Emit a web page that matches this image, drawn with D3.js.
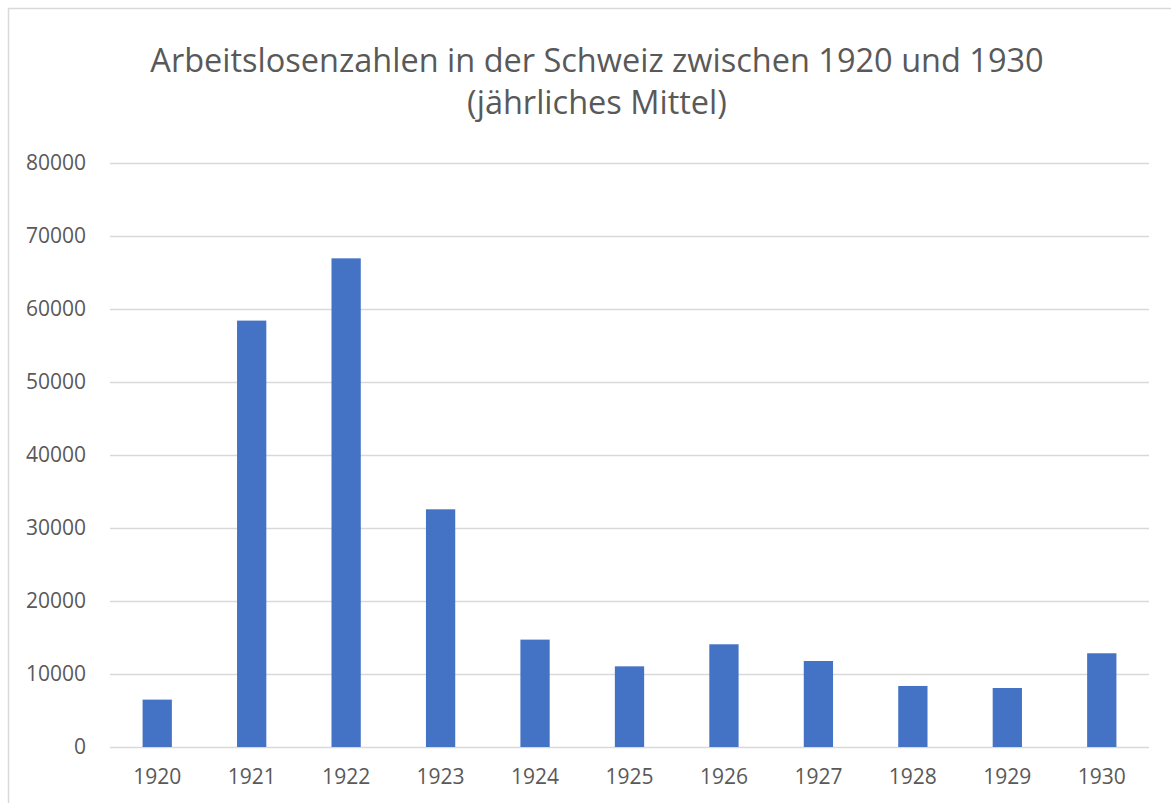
<!DOCTYPE html>
<html>
<head>
<meta charset="utf-8">
<script src="https://cdn.jsdelivr.net/npm/d3@7"></script>
<style>
  body { margin: 0; background: #fff; }
  text { font-family: "Open Sans", sans-serif; fill: #595959; }
</style>
</head>
<body>
<svg id="chart" width="1171" height="803"></svg>
<script>
// data
var years = ["1920", "1921", "1922", "1923", "1924", "1925", "1926", "1927", "1928", "1929", "1930"];
var unemployed = [6490, 58410, 66940, 32560, 14710, 11050, 14070, 11780, 8360, 8080, 12840];
var yTicks = [0, 10000, 20000, 30000, 40000, 50000, 60000, 70000, 80000];
var titleLines = ["Arbeitslosenzahlen in der Schweiz zwischen 1920 und 1930", "(jährliches Mittel)"];

var width = 1171,
    height = 803;
var margin = {top: 163, right: 22, bottom: 56, left: 110};

var svg = d3.select("#chart");

// chart border (right and bottom run off the picture)
svg.append("rect")
    .attr("x", 8.5).attr("y", 8.5)
    .attr("width", 1200).attr("height", 900)
    .attr("fill", "none")
    .attr("stroke", "#d9d9d9")
    .attr("stroke-width", 1.5);

// scales
var x = d3.scaleBand()
    .domain(years)
    .range([margin.left, width - margin.right])
    .paddingInner(0.69)
    .paddingOuter(0.345);

var y = d3.scaleLinear()
    .domain([0, 80000])
    .range([height - margin.bottom, margin.top]);

// gridlines + y labels
var yAxis = svg.append("g")
    .attr("transform", "translate(" + margin.left + ",0)")
    .call(d3.axisLeft(y)
        .tickValues(yTicks)
        .tickSize(-(width - margin.right - margin.left))
        .tickPadding(24)
        .tickFormat(d3.format("d")));
yAxis.select(".domain").remove();
yAxis.selectAll(".tick line")
    .attr("stroke", "#d9d9d9")
    .attr("stroke-width", 1.5);
yAxis.selectAll(".tick text")
    .attr("font-size", 21)
    .attr("fill", "#595959");

// bars
svg.append("g")
    .selectAll("rect")
    .data(years).enter()
    .append("rect")
    .attr("x", d => x(d))
    .attr("width", x.bandwidth())
    .attr("y", (d, i) => y(unemployed[i]))
    .attr("height", (d, i) => y(0) - y(unemployed[i]))
    .attr("fill", "#4472c4");

// x labels
var xAxis = svg.append("g")
    .attr("transform", "translate(0," + y(0) + ")")
    .call(d3.axisBottom(x).tickSize(0).tickPadding(22));
xAxis.select(".domain").remove();
xAxis.selectAll(".tick text")
    .attr("font-size", 21)
    .attr("fill", "#595959");

// title
svg.append("g")
    .selectAll("text")
    .data(titleLines).enter()
    .append("text")
    .attr("x", 597)
    .attr("y", (d, i) => 72 + i * 42)
    .attr("text-anchor", "middle")
    .attr("font-size", 32.5)
    .text(d => d);
</script>
</body>
</html>
